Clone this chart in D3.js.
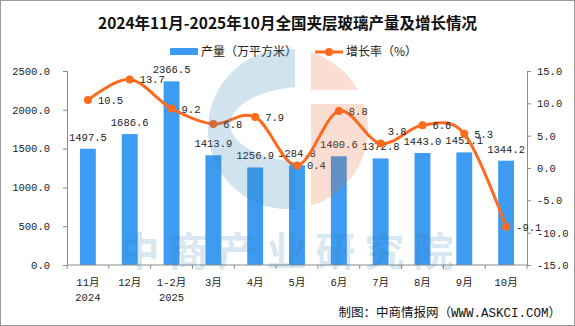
<!DOCTYPE html>
<html>
<head>
<meta charset="utf-8">
<script src="https://cdn.jsdelivr.net/npm/d3@7"></script>
<style>
  html, body { margin: 0; padding: 0; background: #fff; }
  svg { display: block; }
</style>
</head>
<body>
<div id="chart"></div>
<script>
// ---- data ----
const months = ["11月|2024", "12月", "1-2月|2025", "3月", "4月", "5月", "6月", "7月", "8月", "9月", "10月"];
const output = [1497.5, 1686.6, 2366.5, 1413.9, 1256.9, 1284.8, 1400.6, 1372.8, 1443.0, 1451.1, 1344.2];
const growth = [10.5, 13.7, 9.2, 6.8, 7.9, 0.4, 8.8, 3.8, 6.6, 5.3, -9.1];
const leftTicks = [0, 500, 1000, 1500, 2000, 2500];
const rightTicks = [-15, -10, -5, 0, 5, 10, 15];

const W = 575, H = 326;
const margin = { top: 71, right: 48, bottom: 61, left: 67 };
const innerW = W - margin.left - margin.right;
const innerH = H - margin.top - margin.bottom;

const BLUE = "#3d9cf1", ORANGE = "#fe6a1e", AXIS = "#8c8c8c";
const monoFont = "'Liberation Mono', 'Noto Sans CJK SC', monospace";
const cjkFont = "'Noto Sans CJK SC', sans-serif";

const svg = d3.select("#chart").append("svg")
  .attr("width", W).attr("height", H);

// outer frame
svg.append("rect")
  .attr("x", 0.5).attr("y", 0.5)
  .attr("width", W - 1).attr("height", H - 1)
  .attr("fill", "#fff").attr("stroke", "#999");

// title
svg.append("text")
  .attr("x", W / 2).attr("y", 29)
  .attr("text-anchor", "middle")
  .attr("font-family", cjkFont)
  .attr("font-weight", "bold")
  .attr("font-size", "15.5px")
  .attr("fill", "#111")
  .text("2024年11月-2025年10月全国夹层玻璃产量及增长情况");

// legend
const lg = svg.append("g").attr("font-family", cjkFont).attr("font-size", "12px").attr("fill", "#222");
lg.append("rect").attr("x", 170).attr("y", 48).attr("width", 28).attr("height", 7).attr("fill", BLUE);
lg.append("text").attr("x", 201).attr("y", 56).text("产量（万平方米）");
lg.append("line").attr("x1", 315).attr("x2", 343).attr("y1", 52).attr("y2", 52)
  .attr("stroke", ORANGE).attr("stroke-width", 3);
lg.append("circle").attr("cx", 329).attr("cy", 52).attr("r", 4).attr("fill", ORANGE);
lg.append("text").attr("x", 346).attr("y", 56).text("增长率（%）");

const g = svg.append("g").attr("transform", `translate(${margin.left},${margin.top})`);

const x = d3.scaleBand().domain(months).range([0, innerW]).paddingInner(0.62).paddingOuter(0.31);
const xb = d3.scaleBand().domain(months).range([0, innerW]);
const yL = d3.scaleLinear().domain([0, 2500]).range([innerH, 0]);
const yR = d3.scaleLinear().domain([-15, 15]).range([innerH, 0]);

// left axis
const axL = g.append("g").call(d3.axisLeft(yL).tickValues(leftTicks).tickSize(4).tickPadding(13).tickFormat(d3.format(".1f")));
// right axis
const axR = g.append("g").attr("transform", `translate(${innerW},0)`)
  .call(d3.axisRight(yR).tickValues(rightTicks).tickSize(4).tickPadding(6).tickFormat(d => d3.format(".1f")(d).replace("−", "-")));
[axL, axR].forEach(a => {
  a.select(".domain").attr("stroke", AXIS);
  a.selectAll(".tick line").attr("stroke", AXIS);
  a.selectAll("text").attr("font-family", monoFont).attr("font-size", "10.5px").attr("fill", "#222");
});

// bars
g.append("g").selectAll("rect").data(output).join("rect")
  .attr("x", (d, i) => x(months[i]))
  .attr("y", d => yL(d))
  .attr("width", x.bandwidth())
  .attr("height", d => innerH - yL(d))
  .attr("fill", BLUE);

// x axis
const axX = g.append("g").attr("transform", `translate(0,${innerH})`);
axX.append("line").attr("x1", 0).attr("x2", innerW).attr("stroke", AXIS);
axX.selectAll("line.tk").data(d3.range(months.length + 1)).join("line").attr("class", "tk")
  .attr("x1", i => i * xb.step()).attr("x2", i => i * xb.step())
  .attr("y1", 0).attr("y2", 4).attr("stroke", AXIS);
axX.selectAll("text").data(months).join("text")
  .attr("text-anchor", "middle")
  .attr("font-family", monoFont).attr("font-size", "10.5px").attr("fill", "#222")
  .attr("transform", d => `translate(${xb(d) + xb.bandwidth() / 2},0)`)
  .each(function(d) {
    d.split("|").forEach((s, k) => {
      d3.select(this).append("tspan").attr("x", 0).attr("y", 21 + k * 15).text(s);
    });
  });

// bar value labels
g.append("g").selectAll("text").data(output).join("text")
  .attr("x", (d, i) => xb(months[i]) + xb.bandwidth() / 2)
  .attr("y", d => yL(d) - 8)
  .attr("text-anchor", "middle")
  .attr("font-family", monoFont).attr("font-size", "10.5px").attr("fill", "#222")
  .text(d => d.toFixed(1));

// growth line
const cx = (d, i) => xb(months[i]) + xb.bandwidth() / 2;
const line = d3.line().x(cx).y(d => yR(d)).curve(d3.curveCardinal.tension(0));
g.append("path").datum(growth)
  .attr("d", line).attr("fill", "none")
  .attr("stroke", ORANGE).attr("stroke-width", 3);
g.append("g").selectAll("circle").data(growth).join("circle")
  .attr("cx", cx).attr("cy", d => yR(d)).attr("r", 4).attr("fill", ORANGE);
// the 7月 label sits above-right of its point in the original
g.append("g").selectAll("text").data(growth).join("text")
  .attr("x", (d, i) => cx(d, i) + (i === 7 ? 7 : 10))
  .attr("y", (d, i) => yR(d) + (i === 7 ? -8 : 4))
  .attr("font-family", monoFont).attr("font-size", "10.5px").attr("fill", "#222")
  .text(d => d.toFixed(1));

// watermark (drawn on top, translucent)
const wm = svg.append("g").attr("pointer-events", "none");
const R = 80, ox = 288, oy = 129;
const clipId = "wm-disc";
svg.append("defs").append("clipPath").attr("id", clipId)
  .append("circle").attr("cx", ox).attr("cy", oy).attr("r", R);
const disc = wm.append("g").attr("clip-path", `url(#${clipId})`);
// blue "C"
disc.append("path")
  .attr("fill-rule", "evenodd")
  .attr("d", `M${ox - R},${oy - R}H${ox + 7}V${oy + R}H${ox - R}Z ` +
             `M${ox + 7},${oy - 42} A77,38 0 0 0 ${ox + 7},${oy + 33} Z`)
  .attr("fill", "#2f7fb5").attr("fill-opacity", 0.22);
// orange half with white bar
disc.append("rect").attr("x", ox + 23).attr("y", oy - R).attr("width", R).attr("height", R - 39)
  .attr("fill", "#e8692e").attr("fill-opacity", 0.22);
disc.append("rect").attr("x", ox + 23).attr("y", oy - 25).attr("width", R).attr("height", 2 * R)
  .attr("fill", "#e8692e").attr("fill-opacity", 0.22);
wm.append("text")
  .attr("x", 291).attr("y", 266)
  .attr("text-anchor", "middle")
  .attr("font-family", cjkFont).attr("font-weight", "bold")
  .attr("font-size", "40px").attr("letter-spacing", "9px")
  .attr("fill", "#2f7fb5").attr("fill-opacity", 0.2)
  .text("中商产业研究院");

// source note
svg.append("text")
  .attr("x", 561).attr("y", 317)
  .attr("text-anchor", "end")
  .attr("font-family", monoFont).attr("font-size", "12.5px").attr("fill", "#111")
  .text("制图：中商情报网（WWW.ASKCI.COM）");
</script>
</body>
</html>
